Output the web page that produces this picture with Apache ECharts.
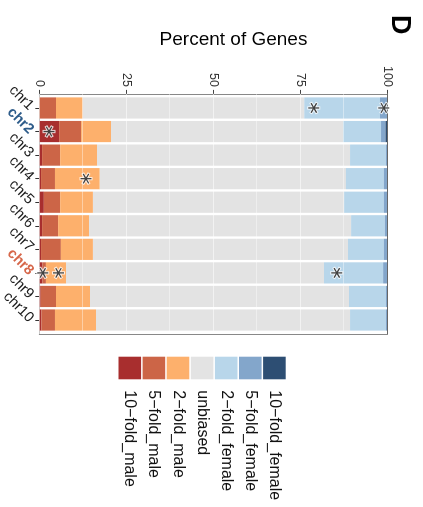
<!DOCTYPE html>
<html>
<head>
<meta charset="utf-8">
<script src="https://cdn.jsdelivr.net/npm/echarts@6/dist/echarts.min.js"></script>
<style>
  html, body { margin: 0; padding: 0; background: #fff; overflow: hidden; width: 423px; height: 507px; }
  /* the plot is laid out upright, then turned a quarter turn clockwise */
  #chart { position: absolute; left: 0; top: 0; width: 507px; height: 423px;
           transform-origin: 0 0; transform: translateX(423px) rotate(90deg); }
</style>
</head>
<body>
<div id="chart"></div>
<script>
// ---- data -----------------------------------------------------------
const chromosomes = ['chr1', 'chr2', 'chr3', 'chr4', 'chr5', 'chr6', 'chr7', 'chr8', 'chr9', 'chr10'];
const biasClasses = ['10−fold_male', '5−fold_male', '2−fold_male', 'unbiased',
                     '2−fold_female', '5−fold_female', '10−fold_female'];

// percent of genes per chromosome in each sex-bias class
const tenFoldMale    = [0.0, 5.7, 0.8, 0.5, 1.3, 0.8, 0.5, 0.9, 0.4, 0.6];
const fiveFoldMale   = [4.8, 6.3, 5.2, 4.0, 4.7, 4.6, 5.7, 1.0, 4.4, 3.9];
const twoFoldMale    = [7.7, 8.6, 10.6, 12.9, 9.4, 8.9, 9.2, 5.8, 9.8, 11.8];
const unbiased       = [63.6, 66.7, 72.7, 70.7, 72.2, 75.3, 73.3, 74.1, 74.4, 73.0];
const twoFoldFemale  = [21.8, 10.9, 10.3, 10.9, 11.4, 9.7, 10.3, 17.0, 10.6, 10.3];
const fiveFoldFemale = [2.1, 1.3, 0.4, 1.0, 1.0, 0.7, 1.0, 1.2, 0.4, 0.4];
const tenFoldFemale  = [0.0, 0.5, 0.0, 0.0, 0.0, 0.0, 0.0, 0.0, 0.0, 0.0];

const percentTicks = [0, 25, 50, 75, 100];

// significance markers: chromosome and position along the percent axis
const starChrom   = ['chr1', 'chr1', 'chr2', 'chr4', 'chr8', 'chr8', 'chr8'];
const starPercent = [78.9, 99.0, 2.8, 13.4, 1.0, 5.5, 85.5];

// highlighted chromosome labels
const highlightStyle = { chr2: 'blue', chr8: 'orange' };

// ---- styling --------------------------------------------------------
const classColors = ['#a82e2e', '#cc6547', '#fdb06c', '#e3e3e3', '#b8d6ea', '#83a6cb', '#2d4e73'];
const FONT = '"Liberation Sans", Arial, Helvetica, sans-serif';

const valuesByClass = [tenFoldMale, fiveFoldMale, twoFoldMale, unbiased,
                       twoFoldFemale, fiveFoldFemale, tenFoldFemale];

// six-armed asterisk outline (one arm pair vertical)
function asteriskPath() {
  const L = 10, t = 1.15, pts = [];
  for (let k = 0; k < 6; k++) {
    const a = (90 + 60 * k) * Math.PI / 180;
    const d = [Math.cos(a), Math.sin(a)], p = [-Math.sin(a), Math.cos(a)];
    pts.push([L * d[0] - t * p[0], L * d[1] - t * p[1]]);
    pts.push([L * d[0] + t * p[0], L * d[1] + t * p[1]]);
    const b = a + Math.PI / 6;
    pts.push([2 * t * Math.cos(b), 2 * t * Math.sin(b)]);
  }
  return 'path://M' + pts.map(q => q[0].toFixed(3) + ' ' + q[1].toFixed(3)).join(' L') + ' Z';
}
const STAR = asteriskPath();

// stacked bars live on grid 0 (category bands); grid 1 carries the panel frame
const barSeries = biasClasses.map((name, k) => ({
  name: name,
  type: 'bar',
  stack: 'genes',
  xAxisIndex: 0, yAxisIndex: 0,
  barWidth: '90%',
  itemStyle: { color: classColors[k] },
  emphasis: { disabled: true },
  data: valuesByClass[k]
}));

const starData = starChrom.map((c, i) => [c, starPercent[i]]);

const frameLine = c => ({ show: true, onZero: false, lineStyle: { color: c, width: 1 } });

const option = {
  animation: false,
  backgroundColor: '#fff',
  textStyle: { fontFamily: FONT },
  grid: [
    { left: 96.2, right: 175.2, top: 35.7, bottom: 39.3, containLabel: false, outerBoundsMode: 'none' },
    { left: 93.9, right: 172.9, top: 35.7, bottom: 39.3, containLabel: false, outerBoundsMode: 'none' }
  ],
  xAxis: [{
    type: 'category', gridIndex: 0, data: chromosomes, boundaryGap: true,
    axisLine: { show: false },
    axisTick: { show: true, alignWithLabel: true, length: 4, lineStyle: { color: '#333' } },
    axisLabel: {
      show: true, rotate: 45, margin: 8, interval: 0,
      fontSize: 14.5, color: '#1a1a1a', fontFamily: FONT,
      formatter: name => highlightStyle[name] ? '{' + highlightStyle[name] + '|' + name + '}' : name,
      rich: {
        blue:   { fontSize: 14.5, fontWeight: 'bold', color: '#2e5c8a', fontFamily: FONT },
        orange: { fontSize: 14.5, fontWeight: 'bold', color: '#d6674a', fontFamily: FONT }
      }
    },
    splitLine: { show: false }
  }, {
    type: 'value', gridIndex: 1, min: 0, max: 1,
    axisLine: frameLine('#888'),
    axisTick: { show: false }, axisLabel: { show: false }, splitLine: { show: false }
  }, {
    type: 'value', gridIndex: 1, min: 0, max: 1, position: 'top', z: 10,
    axisLine: frameLine('#666'),
    axisTick: { show: false }, axisLabel: { show: false }, splitLine: { show: false }
  }],
  yAxis: [{
    type: 'value', gridIndex: 0, min: 0, max: 100,
    axisLine: { show: false }, axisTick: { show: false },
    axisLabel: { show: false }, splitLine: { show: false }
  }, {
    type: 'value', gridIndex: 1, min: 0, max: 100, interval: 25,
    axisLine: frameLine('#888'),
    axisTick: { show: true, length: 4, lineStyle: { color: '#444' } },
    axisLabel: { margin: 7, fontSize: 12.5, color: '#333', fontFamily: FONT,
                 customValues: percentTicks },
    splitLine: { show: false }
  }, {
    type: 'value', gridIndex: 1, min: 0, max: 100, interval: 25, position: 'right', z: 10,
    axisLine: frameLine('#888'),
    axisTick: { show: false }, axisLabel: { show: false },
    splitLine: { show: true, lineStyle: { color: 'rgba(255,255,255,0.55)', width: 1 } },
    minorTick: { show: false, splitNumber: 2 },
    minorSplitLine: { show: true, lineStyle: { color: 'rgba(255,255,255,0.4)', width: 1 } }
  }],
  legend: {
    orient: 'vertical', left: 356.7, top: 137.3, padding: 0,
    itemWidth: 22.6, itemHeight: 22.6, itemGap: 1.5,
    icon: 'rect', selectedMode: false,
    data: biasClasses.slice().reverse(),
    textStyle: { fontSize: 16, color: '#111', fontFamily: FONT, padding: [0, 0, 0, 6] }
  },
  graphic: [
    { type: 'text', x: 40, y: 189.5, rotation: Math.PI / 2,
      style: { text: 'Percent of Genes', font: '19px ' + FONT, fill: '#000',
               textAlign: 'center', textVerticalAlign: 'middle' } },
    { type: 'text', x: 15, y: 24,
      style: { text: 'D', font: 'bold 27px ' + FONT, fill: '#000',
               textAlign: 'left', textVerticalAlign: 'middle' } }
  ],
  series: barSeries.concat([{
    name: 'markerHalo', type: 'scatter', z: 20, silent: true,
    xAxisIndex: 0, yAxisIndex: 0,
    symbol: STAR, symbolSize: 11, symbolKeepAspect: true,
    itemStyle: { color: '#fff', borderColor: '#fff', borderWidth: 2 },
    data: starData
  }, {
    name: 'marker', type: 'scatter', z: 21, silent: true,
    xAxisIndex: 0, yAxisIndex: 0,
    symbol: STAR, symbolSize: 11, symbolKeepAspect: true,
    itemStyle: { color: '#111' },
    data: starData
  }])
};

const chart = echarts.init(document.getElementById('chart'), null, { renderer: 'canvas' });
chart.setOption(option);
</script>
</body>
</html>
